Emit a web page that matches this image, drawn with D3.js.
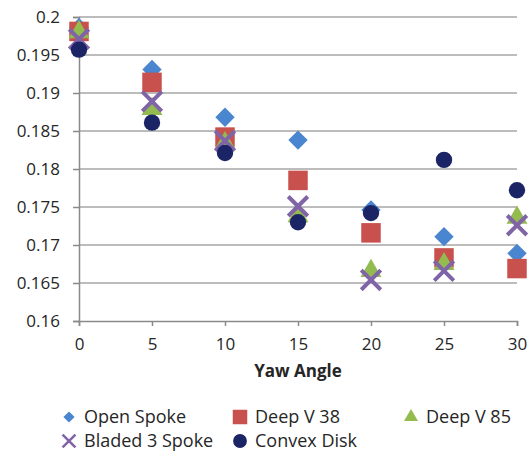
<!DOCTYPE html>
<html>
<head>
<meta charset="utf-8">
<script src="https://cdn.jsdelivr.net/npm/d3@7"></script>
<style>
  body { margin: 0; background: #fff; }
  text { font-family: "Open Sans", "Noto Sans", sans-serif; fill: #262626; }
</style>
</head>
<body>
<svg id="chart" width="531" height="460"></svg>
<script>
// ---- data ----
let yawAngles = [0, 5, 10, 15, 20, 25, 30]
let openSpoke = [0.1986, 0.1931, 0.1868, 0.1838, 0.1746, 0.1711, 0.1689]
let deepV38 = [0.1981, 0.1914, 0.1842, 0.1785, 0.1716, 0.1683, 0.1669]
let deepV85 = [0.1980, 0.1879, 0.1834, 0.1738, 0.1666, 0.1675, 0.1736]
let bladed3Spoke = [0.1971, 0.1889, 0.1837, 0.1751, 0.1654, 0.1666, 0.1726]
let convexDisk = [0.1957, 0.1861, 0.1821, 0.1730, 0.1742, 0.1812, 0.1772]
let yTicks = [0.16, 0.165, 0.17, 0.175, 0.18, 0.185, 0.19, 0.195, 0.2]
let xTicks = [0, 5, 10, 15, 20, 25, 30]

let series = [
  {name: "Open Spoke", values: openSpoke, symbol: d3.symbolDiamond2, color: "#4a86cf", size: 240, lsize: 80},
  {name: "Deep V 38", values: deepV38, symbol: d3.symbolSquare, color: "#c8504d", size: 380, lsize: 210},
  {name: "Deep V 85", values: deepV85, symbol: d3.symbolTriangle, color: "#93bb4f", size: 190, lsize: 85},
  {name: "Bladed 3 Spoke", values: bladed3Spoke, symbol: d3.symbolX, color: "#8064a8", size: 250, lsize: 110},
  {name: "Convex Disk", values: convexDisk, symbol: d3.symbolCircle, color: "#1b2566", size: 210, lsize: 150}
]

//==================== SET UP SVG ====================
let svg = d3.select("#chart"),
    margin = {top: 17, right: 14, bottom: 139, left: 79},
    width = 531 - margin.left - margin.right,
    height = 460 - margin.top - margin.bottom,
    g = svg.append("g").attr("transform", "translate(" + margin.left + "," + margin.top + ")")

let x = d3.scaleLinear().domain([0, 30]).range([0, width]),
    y = d3.scaleLinear().domain([0.16, 0.2]).range([height, 0])

// gridlines
g.append("g")
  .selectAll("line")
  .data(yTicks.slice(1))
  .enter().append("line")
    .attr("x1", 0)
    .attr("x2", width)
    .attr("y1", function(d) { return y(d) })
    .attr("y2", function(d) { return y(d) })
    .style("stroke", "#a6a6a6")
    .style("stroke-width", 1.5)

// axes
let xAxis = g.append("g")
  .attr("transform", "translate(0," + height + ")")
  .call(d3.axisBottom(x).tickValues(xTicks).tickSize(5).tickPadding(12).tickFormat(d3.format("d")))

let yAxis = g.append("g")
  .call(d3.axisLeft(y).tickValues(yTicks).tickSize(6).tickPadding(13).tickFormat(function(d) { return +d.toFixed(3) }))

;[xAxis, yAxis].forEach(function(a) {
  a.select(".domain").style("stroke", "#8a8a8a").style("stroke-width", 1.5)
  a.selectAll(".tick line").style("stroke", "#8a8a8a").style("stroke-width", 1.5)
  a.selectAll("text").style("font-size", "17px").style("fill", "#262626")
    .style("font-family", "'Open Sans', sans-serif")
})

g.append("text")
  .attr("x", width / 2)
  .attr("y", height + 56)
  .attr("text-anchor", "middle")
  .style("font-size", "17px")
  .style("font-weight", "bold")
  .text("Yaw Angle")

// markers
series.forEach(function(s) {
  g.append("g")
    .selectAll("path")
    .data(s.values)
    .enter().append("path")
      .attr("transform", function(d, i) { return "translate(" + x(yawAngles[i]) + "," + y(d) + ")" })
      .attr("d", d3.symbol().type(s.symbol).size(s.size)())
      .style("fill", s.symbol === d3.symbolX ? "none" : s.color)
      .style("stroke", s.symbol === d3.symbolX ? s.color : "none")
      .style("stroke-width", 4)
})

// legend
let legendPos = [[69, 417], [240, 417], [411, 417], [69, 441], [240, 441]]

let legend = svg.selectAll(".legendItem")
  .data(series)
  .enter().append("g")
    .attr("class", "legendItem")
    .attr("transform", function(d, i) { return "translate(" + legendPos[i][0] + "," + legendPos[i][1] + ")" })

legend.append("path")
  .attr("d", function(d) { return d3.symbol().type(d.symbol).size(d.lsize)() })
  .style("fill", function(d) { return d.symbol === d3.symbolX ? "none" : d.color })
  .style("stroke", function(d) { return d.symbol === d3.symbolX ? d.color : "none" })
  .style("stroke-width", 2.5)

legend.append("text")
  .attr("x", 15)
  .attr("dy", "0.35em")
  .style("font-size", "18px")
  .text(function(d) { return d.name })
</script>
</body>
</html>
